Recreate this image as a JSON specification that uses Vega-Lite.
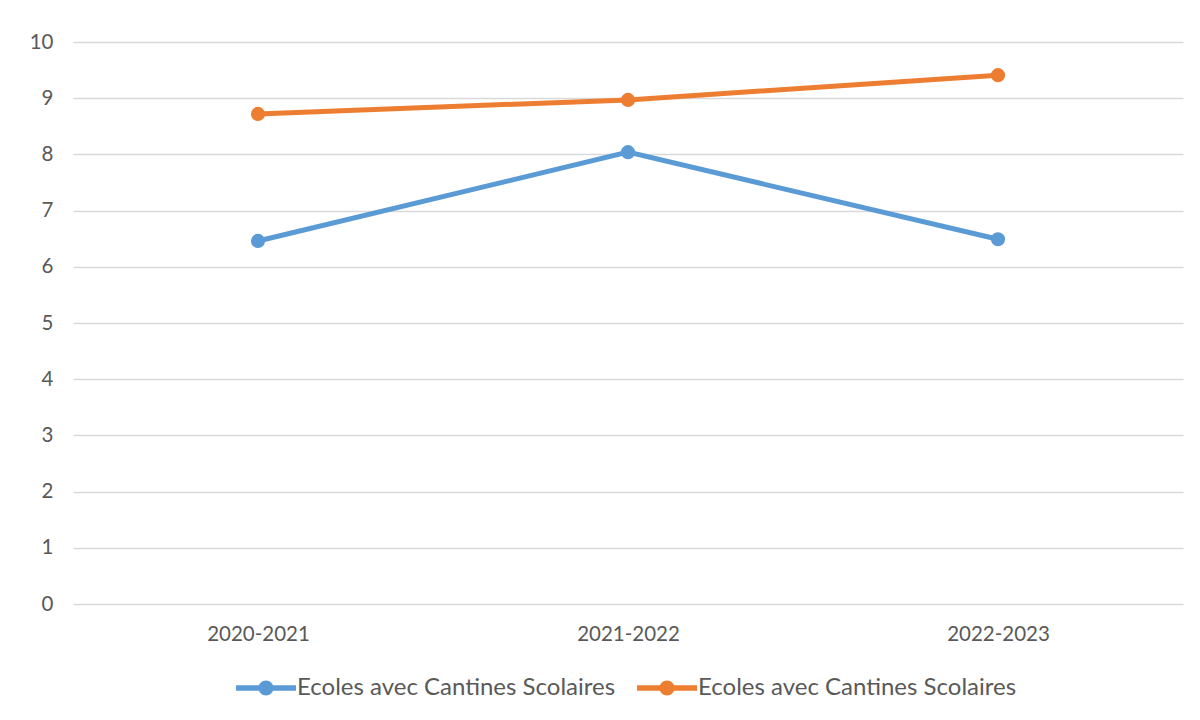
{
  "$schema": "https://vega.github.io/schema/vega-lite/v6.json",
  "width": 1110,
  "height": 562,
  "autosize": "none",
  "padding": {"left": 73, "top": 42, "right": 17, "bottom": 116},
  "background": "white",
  "config": {
    "view": {"stroke": null},
    "font": "Lato"
  },
  "data": {
    "values": [
      {"year": "2020-2021", "series": "A", "value": 6.46},
      {"year": "2021-2022", "series": "A", "value": 8.04},
      {"year": "2022-2023", "series": "A", "value": 6.49},
      {"year": "2020-2021", "series": "B", "value": 8.72},
      {"year": "2021-2022", "series": "B", "value": 8.97},
      {"year": "2022-2023", "series": "B", "value": 9.41}
    ]
  },
  "encoding": {
    "x": {"field": "year", "type": "ordinal", "scale": {"type": "point", "padding": 0.5},
      "axis": {"title": null, "labelAngle": 0, "grid": false, "domain": false, "ticks": false, "labelPadding": 20, "labelFont": "Lato", "labelFontSize": 20.5, "labelColor": "#595959"}},
    "y": {"field": "value", "type": "quantitative", "scale": {"domain": [0, 10], "nice": false},
      "axis": {"title": null, "values": [0, 1, 2, 3, 4, 5, 6, 7, 8, 9, 10], "labelOverlap": false, "domain": false, "ticks": false, "grid": true, "gridColor": "#d9d9d9", "gridWidth": 1.3, "labelPadding": 20, "labelFont": "Lato", "labelFontSize": 20.5, "labelColor": "#595959"}},
    "color": {
      "field": "series", "type": "nominal",
      "scale": {"domain": ["A", "B"], "range": ["#5b9bd5", "#ed7d31"]},
      "legend": {
        "orient": "none", "direction": "horizontal", "title": null, "legendX": 163, "legendY": 616,
        "labelExpr": "'Ecoles avec Cantines Scolaires'",
        "labelFont": "Lato", "labelFontSize": 24, "labelColor": "#595959", "labelOffset": 1,
        "symbolType": "M -1 -0.09 H 1 V 0.09 H -1 Z M -0.25 0 A 0.25 0.25 0 1 1 0.25 0 A 0.25 0.25 0 1 1 -0.25 0 Z",
        "symbolSize": 3600, "symbolStrokeWidth": 0, "columnPadding": 21, "labelLimit": 400
      }
    }
  },
  "layer": [
    {"mark": {"type": "line", "strokeWidth": 5}},
    {"mark": {"type": "point", "filled": true, "size": 200, "opacity": 1}}
  ]
}
